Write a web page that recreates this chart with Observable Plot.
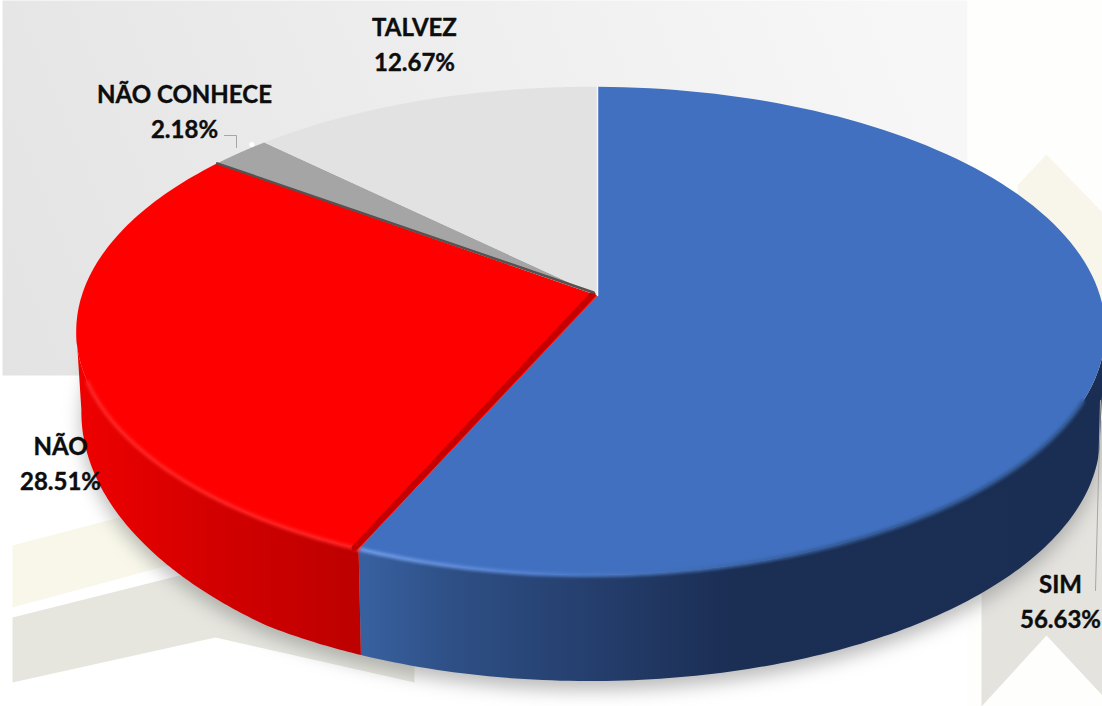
<!DOCTYPE html>
<html><head><meta charset="utf-8">
<script src="https://cdn.jsdelivr.net/npm/d3@7"></script>
<script src="https://cdn.jsdelivr.net/npm/@observablehq/plot@0.6"></script>
<style>html,body{margin:0;padding:0;background:#fff;overflow:hidden}svg{display:block}</style>
</head><body><div id="chart"></div>
<script>
// data
const categories = ["SIM", "NÃO", "NÃO CONHECE", "TALVEZ"];
const shares = [56.63, 28.51, 2.18, 12.67];
const percentLabels = ["56.63%", "28.51%", "2.18%", "12.67%"];
const topColors = ["#4170c0", "#ff0000", "#a5a5a5", "#e2e2e2"];

// layout of the projected pie, in page pixels
const apex = [597, 295];
const rx = 509, rv = 239, tiltY = 0.145, tiltX = 0.013;
const wallDepth = 106, wallShrink = 0.99, wallCx = 590;

const project = deg => {
  const t = deg * Math.PI / 180, X = Math.sin(t), Y = Math.cos(t), w = 1 + tiltY * Y + tiltX * X;
  return [apex[0] + rx * X / w, apex[1] - rv * Y / w];
};
const lower = deg => {
  const [x, y] = project(deg);
  const depth = wallDepth - 0.55 * Math.max(0, deg - 215);
  return [wallCx + (x - wallCx) * wallShrink, y + depth];
};
const arc = (a, b, f = project) => d3.range(0, 121).map(i => f(a + (b - a) * i / 120));

let acc = 0;
const slices = categories.map((c, i) => {
  const a = acc * 3.6; acc += shares[i];
  return {name: c, start: a, end: acc * 3.6, fill: topColors[i]};
});
const [sim, nao, nc, talvez] = slices;

const polygon = (pts, options) => Plot.line(pts.map(([x, y]) => ({x, y})).concat([{x: pts[0][0], y: pts[0][1]}]),
  {x: "x", y: "y", stroke: "none", curve: "linear", ...options});
const stroke = (pts, options) => Plot.line(pts.map(([x, y]) => ({x, y})), {x: "x", y: "y", curve: "linear", ...options});

const defs = () => {
  const d = d3.create("svg:defs");
  const grad = (id, [x1, y1, x2, y2], stops) => {
    const g = d.append("linearGradient").attr("id", id).attr("gradientUnits", "userSpaceOnUse")
      .attr("x1", x1).attr("y1", y1).attr("x2", x2).attr("y2", y2);
    stops.forEach(([o, c]) => g.append("stop").attr("offset", o).attr("stop-color", c));
  };
  grad("panel", [0, 375, 900, 0], [[0, "#e3e3e3"], [0.55, "#eeeeee"], [1, "#f7f7f7"]]);
  grad("wallBlue", [365, 0, 1100, 0], [[0, "#38609f"], [0.12, "#2e4f85"], [0.3, "#253f6e"], [0.5, "#1b2e54"], [1, "#1a2d52"]]);
  grad("wallRed", [80, 0, 365, 0], [[0, "#ee0000"], [0.45, "#d40000"], [1, "#bc0000"]]);
  grad("glowBlue", [365, 0, 850, 0], [[0, "#6f9be6"], [0.4, "#4f7dcc"], [1, "#2f568f"]]);
  return d.node();
};

const marks = [
  defs,
  // backdrop
  polygon([[2, 0], [967, 0], [967, 375], [2, 375]], {fill: "url(#panel)"}),
  polygon([[967, 0], [1102, 0], [1102, 706], [967, 706]], {fill: "#fefefc"}),
  polygon([[12, 545], [260, 480], [260, 540], [12, 607]], {fill: "#f8f7ea"}),
  polygon([[12, 617], [215, 566], [414, 617], [414, 682], [215, 637], [12, 682]], {fill: "#e6e6df"}),
  polygon([[1017, 185], [1046, 154], [1102, 212], [1102, 400], [1017, 400]], {fill: "#f8f6ea"}),
  polygon([[981, 420], [1102, 420], [1102, 695], [1046, 635], [981, 706]], {fill: "#e4e3de"}),
  // soft shadow under the pie
  polygon(arc(60, 290, lower).map(([x, y]) => [x, y + 9]), {fill: "#777", fillOpacity: 0.5, imageFilter: "blur(9px)"}),
  // walls run between the two silhouette points of the rim
  polygon([...arc(98, sim.end), ...arc(98, sim.end, lower).reverse()], {fill: "url(#wallBlue)"}),
  polygon([...arc(nao.start, 262), ...arc(nao.start, 262, lower).reverse()], {fill: "url(#wallRed)"}),
  // slice tops
  ...slices.map(s => polygon([apex, ...arc(s.start, s.end)], {fill: s.fill})),
  // rim highlights
  stroke(arc(115, sim.end), {stroke: "url(#glowBlue)", strokeWidth: 4, imageFilter: "blur(1.5px)"}),
  stroke(arc(nao.start, 250), {stroke: "#ff2424", strokeWidth: 4, imageFilter: "blur(1.5px)"}),
  // cut faces between slices
  stroke([[apex[0] - 5, apex[1] - 1], project(sim.end).map((v, i) => v + [-4, -1][i])], {stroke: "#c40000", strokeWidth: 6}),
  stroke([[apex[0] - 4, apex[1] - 3], project(nao.end)], {stroke: "#5a5050", strokeWidth: 2.5}),
  stroke([[apex[0], apex[1]], project(0)], {stroke: "#f7f7f7", strokeWidth: 1.5}),
  Plot.dot([project(nc.end - 2)], {x: d => d[0], y: d => d[1] - 3, r: 2.5, fill: "#fff"}),
  // leader lines
  stroke([[224, 135], [236, 135], [236, 147]], {stroke: "#a6a6a6", strokeWidth: 1}),
  stroke([[1095, 590], [1100, 400]], {stroke: "#a6a6a6", strokeWidth: 1}),
  // labels
  Plot.text([0, 1, 2, 3], {
    x: [1060, 60, 184, 414],
    y: [600, 462, 110, 43],
    dy: -1,
    text: i => `${categories[i]}\n${percentLabels[i]}`,
    fontFamily: "Lato",
    fontWeight: 700,
    fontSize: 24,
    lineHeight: 1.44,
    fill: "#0d0d0d",
    stroke: "#0d0d0d",
    strokeWidth: 0.4
  })
];

document.getElementById("chart").append(Plot.plot({
  width: 1102, height: 706,
  margin: 0,
  x: {domain: [0, 1102], range: [0, 1102], axis: null},
  y: {domain: [0, 706], range: [0, 706], axis: null},
  marks
}));
</script></body></html>
